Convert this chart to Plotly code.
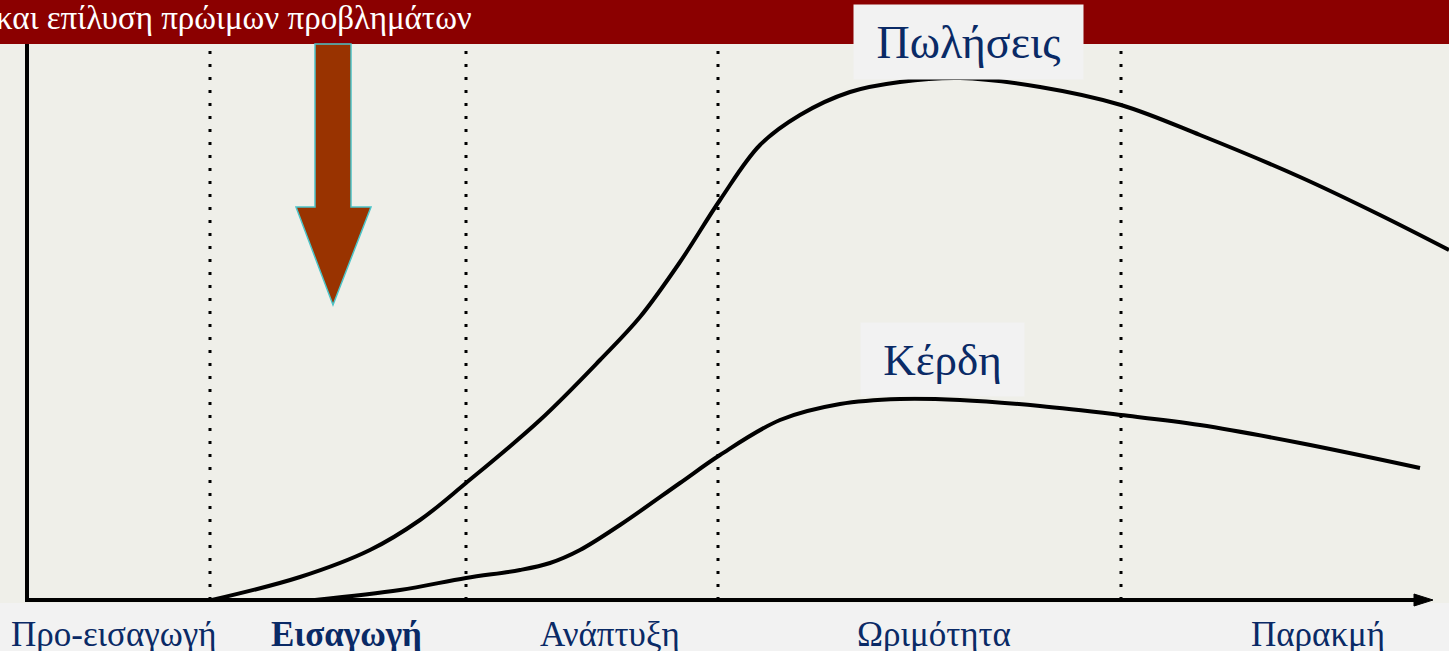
import plotly.graph_objects as go

# ---- data (time units along x, value units along y) ----
stage_names = ["Προ-εισαγωγή", "Εισαγωγή", "Ανάπτυξη", "Ωριμότητα", "Παρακμή"]
stage_label_x = [87, 319, 583, 907, 1291]
stage_bold = [False, True, False, False, False]
stage_bounds = [183, 439, 691, 1094]

sales_t = [185, 273, 343, 393, 439, 513, 573, 613, 653, 693, 733, 773, 823, 873, 933, 1013, 1094, 1173, 1273, 1353, 1422]
sales_v = [0, 23, 50, 80, 117, 180, 240, 283, 338, 400, 455, 485, 508, 518, 522, 513, 495, 465, 423, 385, 350]

profit_t = [288, 373, 439, 493, 523, 553, 593, 653, 693, 753, 813, 873, 933, 1013, 1094, 1173, 1273, 1393]
profit_v = [0, 10, 22, 30, 37, 50, 75, 117, 145, 180, 196, 201, 200, 194, 185, 175, 157, 132]

banner_text = "και επίλυση πρώιμων προβλημάτων"
sales_label = "Πωλήσεις"
profit_label = "Κέρδη"

BG = "#efefe9"
BAND = "#f2f2f2"
NAVY = "#0a2a66"
SERIF = "Liberation Serif, DejaVu Serif, serif"

fig = go.Figure()

# stage boundaries (dotted)
for b in stage_bounds:
    fig.add_trace(go.Scatter(x=[b, b], y=[0, 556], mode="lines",
                             line=dict(color="black", width=3, dash="3px,10px"),
                             hoverinfo="skip", showlegend=False))

# axes lines
fig.add_trace(go.Scatter(x=[0, 0, 1395], y=[570, 0, 0], mode="lines",
                         line=dict(color="black", width=4), hoverinfo="skip", showlegend=False))

# curves
fig.add_trace(go.Scatter(x=sales_t, y=sales_v, mode="lines", line=dict(color="black", width=4, shape="spline", smoothing=1.0),
                         name=sales_label, showlegend=False))
fig.add_trace(go.Scatter(x=profit_t, y=profit_v, mode="lines", line=dict(color="black", width=4, shape="spline", smoothing=1.0),
                         name=profit_label, showlegend=False))

shapes = []
# bottom band
shapes.append(dict(type="rect", xref="paper", yref="y", x0=0, x1=1, y0=-60, y1=-3,
                   fillcolor=BAND, line=dict(width=0), layer="below"))
# banner
shapes.append(dict(type="rect", xref="paper", yref="y", x0=0, x1=1, y0=556, y1=610,
                   fillcolor="#8b0000", line=dict(width=0), layer="above"))
# x-axis arrowhead
shapes.append(dict(type="path", xref="x", yref="y",
                   path="M 1387 6 L 1406 0 L 1387 -6 Z", fillcolor="black", line=dict(color="black", width=1)))
# big down arrow
shapes.append(dict(type="path", xref="x", yref="y",
                   path="M 288 556 L 324 556 L 324 393 L 344 393 L 306 295 L 269 393 L 288 393 Z",
                   fillcolor="#993300", line=dict(color="#4cc4c8", width=1.5), layer="above"))

annotations = []
annotations.append(dict(x=-0.004, y=582, xref="paper", yref="y", text=banner_text, showarrow=False,
                        xanchor="left", yanchor="middle", font=dict(family=SERIF, size=33, color="white")))
annotations.append(dict(x=941, y=558, xref="x", yref="y", text=sales_label, showarrow=False,
                        xanchor="center", yanchor="middle", font=dict(family=SERIF, size=46, color=NAVY),
                        bgcolor=BAND, width=227, height=72))
annotations.append(dict(x=915, y=241, xref="x", yref="y", text=profit_label, showarrow=False,
                        xanchor="center", yanchor="middle", font=dict(family=SERIF, size=45, color=NAVY),
                        bgcolor=BAND, width=161, height=71))
for name, xx, bold in zip(stage_names, stage_label_x, stage_bold):
    annotations.append(dict(x=xx, y=-34, xref="x", yref="y",
                            text=f"<b>{name}</b>" if bold else name, showarrow=False,
                            xanchor="center", yanchor="middle",
                            font=dict(family=SERIF, size=35, color=NAVY)))

fig.update_layout(
    width=1449, height=651, margin=dict(l=0, r=0, t=0, b=0),
    paper_bgcolor=BG, plot_bgcolor=BG,
    xaxis=dict(range=[-27, 1422], visible=False, fixedrange=True),
    yaxis=dict(range=[-51, 600], visible=False, fixedrange=True),
    shapes=shapes, annotations=annotations, showlegend=False,
)

fig.write_html("out.html", config={"displayModeBar": False},
               post_script="document.body.style.margin='0';document.body.style.overflow='hidden';")
